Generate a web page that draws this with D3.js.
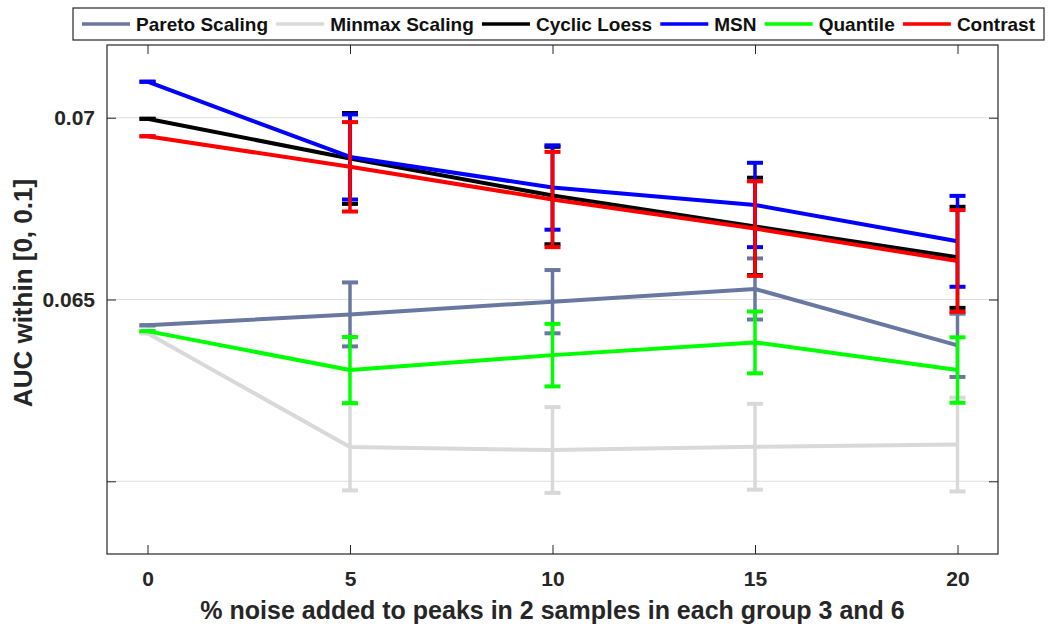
<!DOCTYPE html>
<html>
<head>
<meta charset="utf-8">
<script src="https://cdn.jsdelivr.net/npm/d3@7"></script>
<style>
  html, body { margin: 0; padding: 0; background: #fff; }
  svg { display: block; font-family: "Liberation Sans", Arial, sans-serif; font-weight: bold; }
</style>
</head>
<body>
<svg id="chart" width="1050" height="628"></svg>
<script>
// ---- data ----
const noiseLevels = [0, 5, 10, 15, 20];
const xTickValues = [0, 5, 10, 15, 20];
const yTickValues = [0.06, 0.065, 0.07];
const yTickLabels = ["", "0.065", "0.07"];

const seriesNames = ["Pareto Scaling", "Minmax Scaling", "Cyclic Loess", "MSN", "Quantile", "Contrast"];
const seriesColors = ["#6878a0", "#d9d9d9", "#000000", "#0000ff", "#00ff00", "#ff0000"];

const paretoMean   = [0.06429, 0.06459, 0.06494, 0.06529, 0.06374];
const paretoErr    = [0, 0.00088, 0.00087, 0.00084, 0.00087];
const minmaxMean   = [0.06407, 0.06094, 0.06086, 0.06095, 0.06101];
const minmaxErr    = [0, 0.00119, 0.00118, 0.00118, 0.00129];
const cyclicMean   = [0.06997, 0.06888, 0.06786, 0.06701, 0.06616];
const cyclicErr    = [0, 0.00125, 0.00134, 0.00134, 0.00139];
const msnMean      = [0.07099, 0.06892, 0.06808, 0.06760, 0.06660];
const msnErr       = [0, 0.00117, 0.00116, 0.00116, 0.00125];
const quantileMean = [0.06413, 0.06306, 0.06347, 0.06382, 0.06306];
const quantileErr  = [0, 0.00091, 0.00086, 0.00085, 0.00090];
const contrastMean = [0.06949, 0.06865, 0.06775, 0.06695, 0.06606];
const contrastErr  = [0, 0.00123, 0.00131, 0.00130, 0.00140];

const allMeans = [paretoMean, minmaxMean, cyclicMean, msnMean, quantileMean, contrastMean];
const allErrs  = [paretoErr, minmaxErr, cyclicErr, msnErr, quantileErr, contrastErr];

// ---- layout ----
const plot = { left: 107, right: 998, top: 45, bottom: 554 };
const axisColor = "#262626";

const svg = d3.select("#chart");

const x = d3.scaleLinear().domain([-1, 21]).range([plot.left, plot.right]);
const y = d3.scaleLinear().domain([0.058, 0.072]).range([plot.bottom, plot.top]);

// grid
svg.append("g").selectAll("line").data(yTickValues).join("line")
  .attr("x1", plot.left).attr("x2", plot.right)
  .attr("y1", d => y(d)).attr("y2", d => y(d))
  .attr("stroke", "#dedede").attr("stroke-width", 1);

// axes
const tickLen = 9;
const fmtY = d => yTickLabels[yTickValues.indexOf(d)] ?? "";
const xAxisB = svg.append("g").attr("transform", `translate(0,${plot.bottom})`)
  .call(d3.axisBottom(x).tickValues(xTickValues).tickSizeInner(-tickLen).tickSizeOuter(0).tickPadding(17).tickFormat(d3.format("d")));
const xAxisT = svg.append("g").attr("transform", `translate(0,${plot.top})`)
  .call(d3.axisTop(x).tickValues(xTickValues).tickSizeInner(-tickLen).tickSizeOuter(0).tickFormat(""));
const yAxisL = svg.append("g").attr("transform", `translate(${plot.left},0)`)
  .call(d3.axisLeft(y).tickValues(yTickValues).tickSizeInner(-tickLen).tickSizeOuter(0).tickPadding(12).tickFormat(fmtY));
const yAxisR = svg.append("g").attr("transform", `translate(${plot.right},0)`)
  .call(d3.axisRight(y).tickValues(yTickValues).tickSizeInner(-tickLen).tickSizeOuter(0).tickFormat(""));
[xAxisB, xAxisT, yAxisL, yAxisR].forEach(g => {
  g.select(".domain").remove();
  g.selectAll(".tick line").attr("stroke", axisColor).attr("stroke-width", 1);
  g.selectAll(".tick text").attr("fill", axisColor).attr("font-size", 21).attr("font-weight", "bold")
    .attr("font-family", "'Liberation Sans', Arial, sans-serif");
});

// box
svg.append("rect").attr("x", plot.left).attr("y", plot.top)
  .attr("width", plot.right - plot.left).attr("height", plot.bottom - plot.top)
  .attr("fill", "none").attr("stroke", axisColor).attr("stroke-width", 1.2);

// series
const line = d3.line().x(d => x(d.x)).y(d => y(d.m));
const capHalf = 8;
seriesNames.forEach((name, i) => {
  const pts = noiseLevels.map((nx, j) => ({ x: nx, m: allMeans[i][j], e: allErrs[i][j] }));
  const g = svg.append("g").attr("class", "series");
  g.append("path").datum(pts).attr("d", line)
    .attr("fill", "none").attr("stroke", seriesColors[i]).attr("stroke-width", 4)
    .attr("stroke-linejoin", "round");
  const eb = g.selectAll("g.eb").data(pts).join("g").attr("class", "eb");
  eb.append("line")
    .attr("x1", d => x(d.x)).attr("x2", d => x(d.x))
    .attr("y1", d => y(d.m - d.e)).attr("y2", d => y(d.m + d.e))
    .attr("stroke", seriesColors[i]).attr("stroke-width", 3.5);
  eb.append("line")
    .attr("x1", d => x(d.x) - capHalf).attr("x2", d => x(d.x) + capHalf)
    .attr("y1", d => y(d.m - d.e)).attr("y2", d => y(d.m - d.e))
    .attr("stroke", seriesColors[i]).attr("stroke-width", 4);
  eb.append("line")
    .attr("x1", d => x(d.x) - capHalf).attr("x2", d => x(d.x) + capHalf)
    .attr("y1", d => y(d.m + d.e)).attr("y2", d => y(d.m + d.e))
    .attr("stroke", seriesColors[i]).attr("stroke-width", 4);
});

// axis labels
svg.append("text").attr("x", (plot.left + plot.right) / 2).attr("y", 619)
  .attr("text-anchor", "middle").attr("font-size", 25).attr("fill", axisColor)
  .text("% noise added to peaks in 2 samples in each group 3 and 6");
svg.append("text").attr("transform", `translate(32,293) rotate(-90)`)
  .attr("text-anchor", "middle").attr("font-size", 26).attr("fill", axisColor)
  .text("AUC within [0, 0.1]");

// legend
const leg = { left: 73, right: 1044, top: 8, bottom: 40 };
const lg = svg.append("g");
lg.append("rect").attr("x", leg.left).attr("y", leg.top)
  .attr("width", leg.right - leg.left).attr("height", leg.bottom - leg.top)
  .attr("fill", "#fff").attr("stroke", axisColor).attr("stroke-width", 1.2);
const sampleLen = 48, sampleGap = 6, innerPad = 9;
const cy = (leg.top + leg.bottom) / 2;
const items = seriesNames.map((name, i) => {
  const t = lg.append("text").attr("font-size", 19).attr("fill", "#111").attr("y", cy + 7).text(name);
  return { t, w: t.node().getComputedTextLength(), i };
});
const natural = d3.sum(items, d => d.w + sampleLen + sampleGap);
const avail = (leg.right - leg.left) - 2 * innerPad;
const gap = (avail - natural) / (items.length - 1);
let cx = leg.left + innerPad;
items.forEach(d => {
  lg.append("line").attr("x1", cx).attr("x2", cx + sampleLen).attr("y1", cy).attr("y2", cy)
    .attr("stroke", seriesColors[d.i]).attr("stroke-width", 3.5);
  d.t.attr("x", cx + sampleLen + sampleGap);
  cx += sampleLen + sampleGap + d.w + gap;
});
</script>
</body>
</html>
